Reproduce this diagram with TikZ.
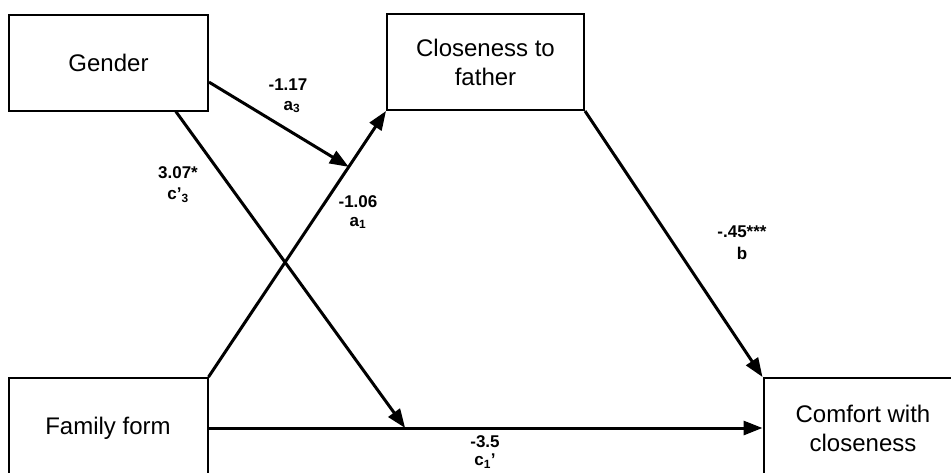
\documentclass[tikz,border=0pt]{standalone}
\usepackage{fontspec}
\setmainfont{Liberation Sans}
\usetikzlibrary{arrows.meta,calc}
\begin{document}
\begin{tikzpicture}[x=1pt,y=-1pt,
  box/.style={draw=black,line width=2pt,fill=white,minimum width=199pt,minimum height=96pt,inner sep=0pt,align=center,font=\fontsize{24}{29}\selectfont},
  path/.style={line width=3pt,-{Triangle[length=19pt,width=14pt]}},
  lab/.style={font=\bfseries\fontsize{17}{20}\selectfont,inner sep=0pt}]
\useasboundingbox (0,0) rectangle (951,472);
\clip (0,0) rectangle (951,472);
\fill[white] (0,0) rectangle (951,472);
\node[box] (gender) at (108.5,62.5) {Gender};
\node[box,minimum width=197pt] (close) at (485.5,62) {Closeness to\\father};
\node[box,minimum height=100pt] (family) at (108,428) {Family form};
\node[box,minimum height=100pt] (comfort) at (863,428) {Comfort with\\closeness};
\coordinate (gE) at ($(gender.north east)!0.7!(gender.south east)$);
\coordinate (gS) at ($(gender.south west)!0.835!(gender.south east)$);
\coordinate (mA) at ($(family.north east)!0.79!(close.south west)$);
\coordinate (mC) at ($(family.east)!0.355!(comfort.west)$);
\draw[path] (family.north east) -- (close.south west);
\draw[path] (gE) -- (mA);
\draw[path] (gS) -- (mC);
\draw[path] (close.south east) -- (comfort.north west);
\draw[path] (family.east) -- (comfort.west);
\node[lab] (l1) at (288,85) {-1.17};
\node[lab] (l1s) at (292,107) {a\textsubscript{3}};
\node[lab] (l2) at (178,173) {3.07*};
\node[lab] (l2s) at (178,195) {c’\textsubscript{3}};
\node[lab] (l3) at (358,202) {-1.06};
\node[lab] (l3s) at (358,223) {a\textsubscript{1}};
\node[lab] (l4) at (742,232) {-.45***};
\node[lab] (l4s) at (742,253) {b};
\node[lab] (l5) at (485,442) {-3.5};
\node[lab] (l5s) at (485,461) {c\textsubscript{1}’};
\end{tikzpicture}
\end{document}
